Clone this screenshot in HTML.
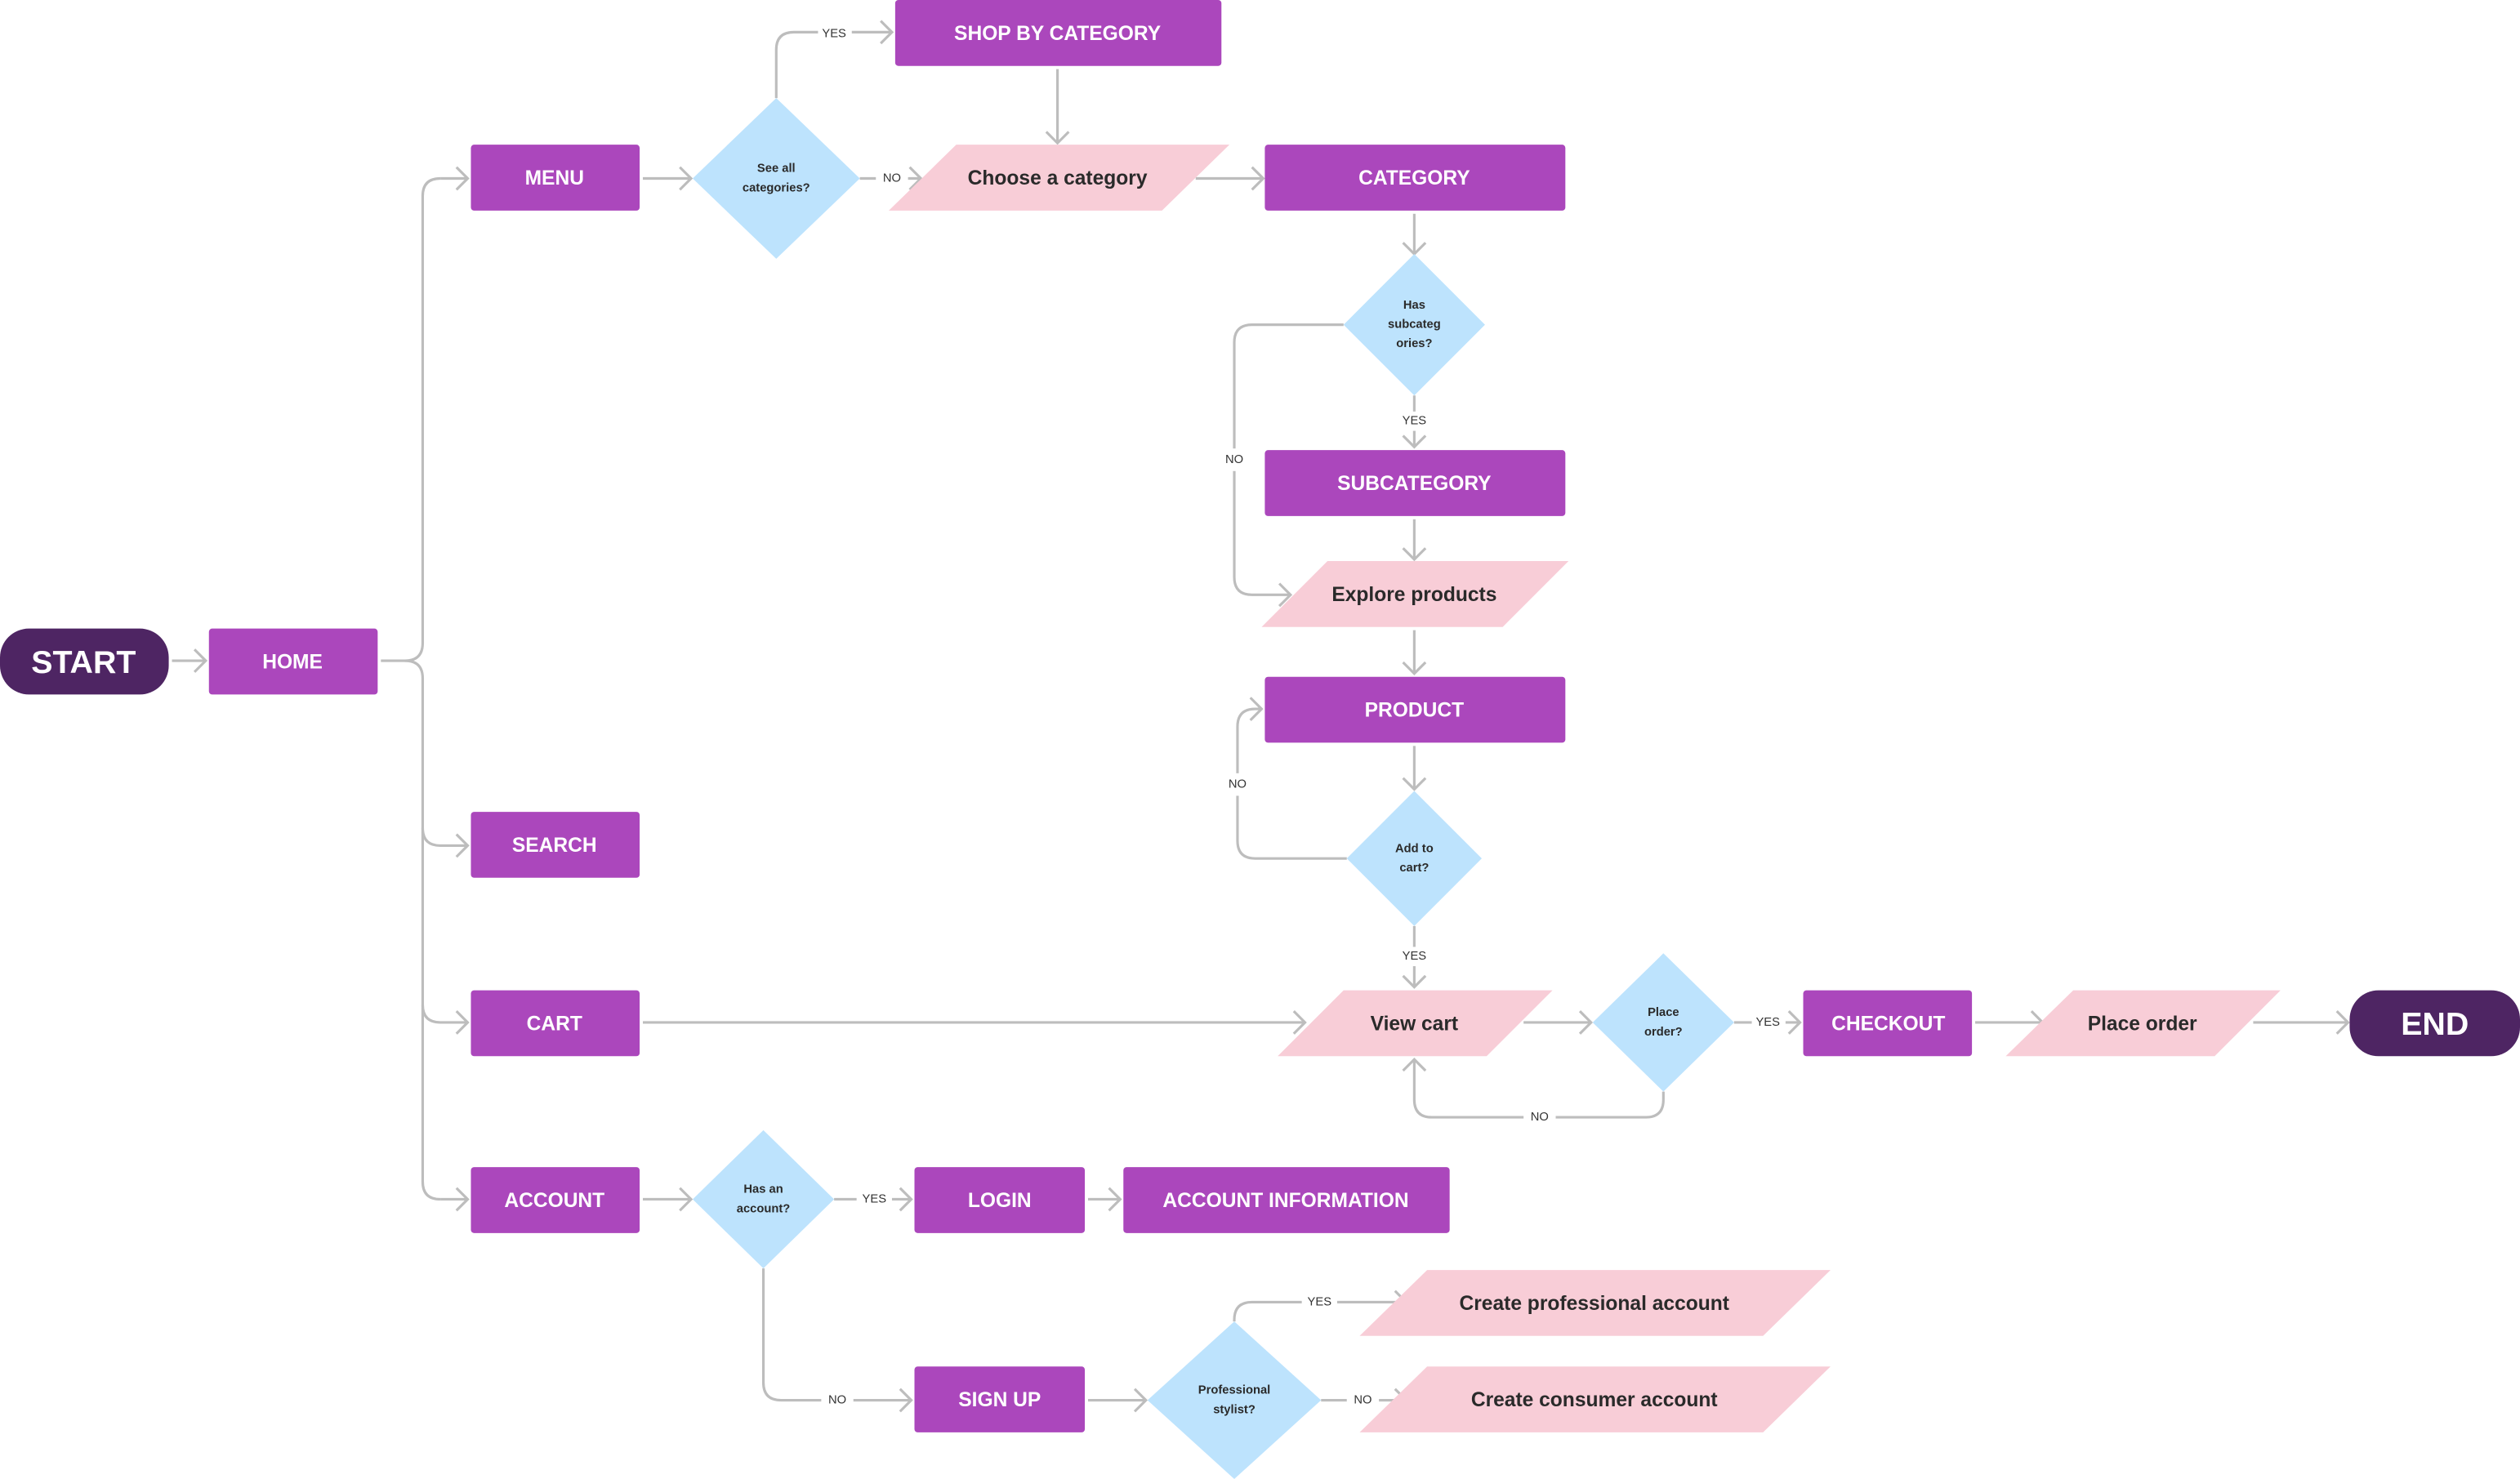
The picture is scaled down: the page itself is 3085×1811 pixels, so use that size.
<!DOCTYPE html>
<html><head><meta charset="utf-8"><style>
html,body{margin:0;padding:0;background:#fff;}
svg{display:block;}
text{font-family:"Liberation Sans",sans-serif;}
.b{fill:#fff;font-weight:bold;font-size:12.5px;text-anchor:middle;dominant-baseline:central;}
.p{fill:#2a2a2a;font-weight:bold;font-size:12.5px;text-anchor:middle;dominant-baseline:central;}
.d{fill:#2a2a2a;font-weight:bold;font-size:7.5px;text-anchor:middle;dominant-baseline:central;}
.l{fill:#333;font-size:7.5px;text-anchor:middle;dominant-baseline:central;}
.ln{fill:none;stroke:#bdbdbd;stroke-width:1.6;marker-end:url(#a);}
.ln0{fill:none;stroke:#bdbdbd;stroke-width:1.6;}
</style></head><body>
<svg width="3085" height="1811" viewBox="0 0 1568 920" preserveAspectRatio="none" xmlns="http://www.w3.org/2000/svg">
<defs><marker id="a" markerUnits="userSpaceOnUse" markerWidth="12" markerHeight="16" refX="9" refY="8" orient="auto"><path d="M2,1 L9,8 L2,15" fill="none" stroke="#bdbdbd" stroke-width="1.6"/></marker></defs>

<!-- connectors -->
<path class="ln" d="M107,411 H128"/>
<path class="ln0" d="M237,411 H252 Q263,411 263,400 V122 Q263,111 274,111"/>
<path class="ln" d="M274,111 H291"/>
<path class="ln0" d="M252,411 Q263,411 263,422 V735 Q263,746 274,746"/>
<path class="ln" d="M274,746 H291"/>
<path class="ln" d="M263,515 Q263,526 274,526 H291"/>
<path class="ln" d="M263,625 Q263,636 274,636 H291"/>
<path class="ln" d="M400,111 H430"/>
<path class="ln" d="M483,61 V31 Q483,20 494,20 H555"/>
<path class="ln" d="M535,111 H573"/>
<path class="ln" d="M658,43 V89"/>
<path class="ln" d="M744,111 H786"/>
<path class="ln" d="M880,133 V158"/>
<path class="ln" d="M880,246 V278"/>
<path class="ln" d="M836,202 H779 Q768,202 768,213 V359 Q768,370 779,370 H803"/>
<path class="ln" d="M880,323 V348"/>
<path class="ln" d="M880,392 V419"/>
<path class="ln" d="M880,464 V491"/>
<path class="ln" d="M838,534 H781 Q770,534 770,523 V452 Q770,441 781,441 H785"/>
<path class="ln" d="M880,576 V614"/>
<path class="ln" d="M400,636 H812"/>
<path class="ln" d="M948,636 H990"/>
<path class="ln" d="M1035,679 V684 Q1035,695 1024,695 H891 Q880,695 880,684 V659"/>
<path class="ln" d="M1079,636 H1120"/>
<path class="ln" d="M1229,636 H1271"/>
<path class="ln" d="M1402,636 H1461"/>
<path class="ln" d="M400,746 H430"/>
<path class="ln" d="M519,746 H567"/>
<path class="ln" d="M677,746 H697"/>
<path class="ln" d="M475,789 V860 Q475,871 486,871 H567"/>
<path class="ln" d="M677,871 H713"/>
<path class="ln" d="M768,822 V821 Q768,810 779,810 H875"/>
<path class="ln" d="M822,871 H875"/>

<!-- labels on lines -->
<g>
<rect x="509" y="15" width="21" height="11" fill="#fff"/><text class="l" x="519" y="21">YES</text>
<rect x="545" y="106" width="20" height="11" fill="#fff"/><text class="l" x="555" y="111">NO</text>
<rect x="869" y="256" width="22" height="12" fill="#fff"/><text class="l" x="880" y="262">YES</text>
<rect x="759" y="279" width="19" height="14" fill="#fff"/><text class="l" x="768" y="286">NO</text>
<rect x="761" y="481" width="19" height="14" fill="#fff"/><text class="l" x="770" y="488">NO</text>
<rect x="869" y="589" width="22" height="12" fill="#fff"/><text class="l" x="880" y="595">YES</text>
<rect x="948" y="690" width="20" height="11" fill="#fff"/><text class="l" x="958" y="695">NO</text>
<rect x="1090" y="631" width="21" height="11" fill="#fff"/><text class="l" x="1100" y="636">YES</text>
<rect x="533" y="741" width="22" height="11" fill="#fff"/><text class="l" x="544" y="746">YES</text>
<rect x="511" y="866" width="20" height="11" fill="#fff"/><text class="l" x="521" y="871">NO</text>
<rect x="810" y="805" width="22" height="11" fill="#fff"/><text class="l" x="821" y="810">YES</text>
<rect x="838" y="866" width="20" height="11" fill="#fff"/><text class="l" x="848" y="871">NO</text>
</g>

<!-- terminals -->
<rect x="0" y="391" width="105" height="41" rx="18" fill="#4e2563"/><text class="b" x="52" y="412" style="font-size:20px">START</text>
<rect x="1462" y="616" width="106" height="41" rx="18" fill="#4e2563"/><text class="b" x="1515" y="637" style="font-size:20px">END</text>

<!-- process boxes -->
<g fill="#ab47bc">
<rect x="130" y="391" width="105" height="41" rx="2"/>
<rect x="293" y="90" width="105" height="41" rx="2"/>
<rect x="293" y="505" width="105" height="41" rx="2"/>
<rect x="293" y="616" width="105" height="41" rx="2"/>
<rect x="293" y="726" width="105" height="41" rx="2"/>
<rect x="557" y="0" width="203" height="41" rx="2"/>
<rect x="787" y="90" width="187" height="41" rx="2"/>
<rect x="787" y="280" width="187" height="41" rx="2"/>
<rect x="787" y="421" width="187" height="41" rx="2"/>
<rect x="1122" y="616" width="105" height="41" rx="2"/>
<rect x="569" y="726" width="106" height="41" rx="2"/>
<rect x="699" y="726" width="203" height="41" rx="2"/>
<rect x="569" y="850" width="106" height="41" rx="2"/>
</g>
<text class="b" x="182" y="412">HOME</text>
<text class="b" x="345" y="111">MENU</text>
<text class="b" x="345" y="526">SEARCH</text>
<text class="b" x="345" y="637">CART</text>
<text class="b" x="345" y="747">ACCOUNT</text>
<text class="b" x="658" y="21">SHOP BY CATEGORY</text>
<text class="b" x="880" y="111">CATEGORY</text>
<text class="b" x="880" y="301">SUBCATEGORY</text>
<text class="b" x="880" y="442">PRODUCT</text>
<text class="b" x="1175" y="637">CHECKOUT</text>
<text class="b" x="622" y="747">LOGIN</text>
<text class="b" x="800" y="747">ACCOUNT INFORMATION</text>
<text class="b" x="622" y="871">SIGN UP</text>

<!-- parallelograms -->
<g fill="#f8cdd7">
<polygon points="595,90 765,90 723,131 553,131"/>
<polygon points="826,349 976,349 935,390 785,390"/>
<polygon points="836,616 966,616 925,657 795,657"/>
<polygon points="1290,616 1419,616 1378,657 1248,657"/>
<polygon points="888,790 1139,790 1097,831 846,831"/>
<polygon points="888,850 1139,850 1097,891 846,891"/>
</g>
<text class="p" x="658" y="111">Choose a category</text>
<text class="p" x="880" y="370">Explore products</text>
<text class="p" x="880" y="637">View cart</text>
<text class="p" x="1333" y="637">Place order</text>
<text class="p" x="992" y="811">Create professional account</text>
<text class="p" x="992" y="871">Create consumer account</text>

<!-- diamonds -->
<g fill="#bde3fd">
<polygon points="483,61 535,111 483,161 431,111"/>
<polygon points="880,158 924,202 880,246 836,202"/>
<polygon points="880,492 922,534 880,576 838,534"/>
<polygon points="1035,593 1079,636 1035,679 991,636"/>
<polygon points="475,703 519,746 475,789 431,746"/>
<polygon points="768,822 822,871 768,920 714,871"/>
</g>
<text class="d" x="483" y="105">See all</text><text class="d" x="483" y="117">categories?</text>
<text class="d" x="880" y="190">Has</text><text class="d" x="880" y="202">subcateg</text><text class="d" x="880" y="214">ories?</text>
<text class="d" x="880" y="528">Add to</text><text class="d" x="880" y="540">cart?</text>
<text class="d" x="1035" y="630">Place</text><text class="d" x="1035" y="642">order?</text>
<text class="d" x="475" y="740">Has an</text><text class="d" x="475" y="752">account?</text>
<text class="d" x="768" y="865">Professional</text><text class="d" x="768" y="877">stylist?</text>
</svg>
</body></html>
